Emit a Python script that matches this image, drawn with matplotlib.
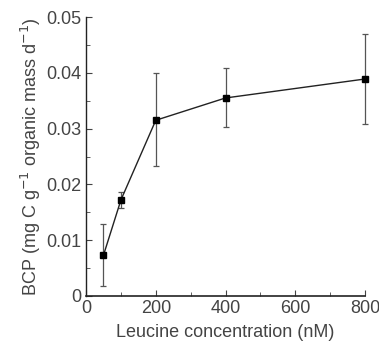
import numpy as np
from matplotlib import pyplot as plt

plt.rcParams['font.family'] = ['Liberation Sans', 'DejaVu Sans']

leucine = [50, 100, 200, 400, 800]
bcp = [0.0073, 0.0172, 0.0315, 0.0355, 0.0389]
err_low = [0.0055, 0.0015, 0.0082, 0.0052, 0.0080]
err_high = [0.0056, 0.0015, 0.0085, 0.0054, 0.0081]

fig = plt.figure(figsize=(3.79, 3.49), dpi=100)
ax = fig.add_axes([0.227, 0.152, 0.736, 0.799])

eb = ax.errorbar(leucine, bcp, yerr=[err_low, err_high], fmt='none',
                 ecolor='#555555', elinewidth=0.9, capsize=2.5, capthick=0.9, zorder=2)
for art in eb.lines[1] + eb.lines[2]:
    art.set_clip_on(False)
ax.plot(leucine, bcp, color='#222222', lw=1.0, marker='s', ms=4.5,
        mfc='black', mec='black', zorder=3, clip_on=False)

ax.set_xlim(0, 800)
ax.set_ylim(0, 0.05)
ax.set_xticks([0, 200, 400, 600, 800])
ax.set_xticks([100, 300, 500, 700], minor=True)
ax.set_yticks([0, 0.01, 0.02, 0.03, 0.04, 0.05])
ax.set_yticklabels(['0', '0.01', '0.02', '0.03', '0.04', '0.05'])
ax.set_yticks([0.005, 0.015, 0.025, 0.035, 0.045], minor=True)
ax.tick_params(which='both', direction='in', labelsize=13, colors='#444444', pad=3)
ax.tick_params(which='major', length=4)
ax.tick_params(which='minor', length=3)

for s in ['top', 'right']:
    ax.spines[s].set_visible(False)
for s in ['left', 'bottom']:
    ax.spines[s].set_color('#222222')
ax.spines['bottom'].set_linewidth(1.2)
ax.spines['left'].set_linewidth(1.0)

ax.set_xlabel('Leucine concentration (nM)', fontsize=13, color='#444444', labelpad=5)
ax.set_ylabel('BCP (mg C g$^{-1}$ organic mass d$^{-1}$)', fontsize=13,
              color='#444444', labelpad=3)

fig.savefig('out.png', dpi=100)
